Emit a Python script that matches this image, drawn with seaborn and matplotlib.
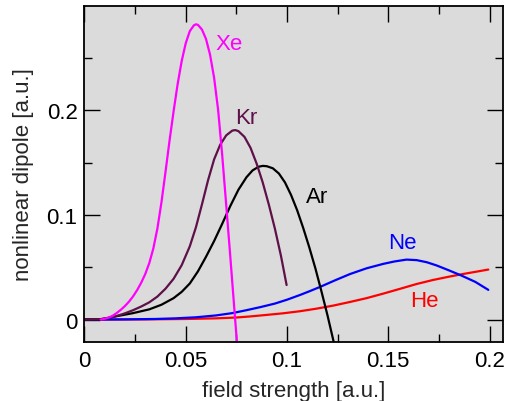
import matplotlib
matplotlib.use("Agg")
import matplotlib.pyplot as plt
import seaborn as sns
import pandas as pd
from matplotlib.ticker import MultipleLocator, FuncFormatter

# ---- data ----
xe_x = [0.008, 0.010, 0.012, 0.014, 0.016, 0.018, 0.020, 0.022, 0.024, 0.026, 0.028,
        0.030, 0.032, 0.034, 0.036, 0.038, 0.040, 0.042, 0.044, 0.046, 0.048,
        0.050, 0.052, 0.054, 0.055, 0.056, 0.058, 0.060, 0.062, 0.064, 0.066,
        0.068, 0.070, 0.072, 0.074, 0.0756]
xe_y = [0.0, 0.0008, 0.0020, 0.0038, 0.0064, 0.0095, 0.0130, 0.0172, 0.0222, 0.0282, 0.0352,
        0.0435, 0.0540, 0.0680, 0.0870, 0.1120, 0.1410, 0.1710, 0.1990, 0.2250, 0.2470,
        0.2640, 0.2755, 0.2810, 0.2820, 0.2815, 0.2770, 0.2680, 0.2530, 0.2310, 0.2000,
        0.1570, 0.1090, 0.0600, 0.0100, -0.0300]

kr_x = [0.0, 0.008, 0.012, 0.016, 0.020, 0.024, 0.028, 0.032, 0.036, 0.040, 0.044,
        0.048, 0.052, 0.055, 0.058, 0.061, 0.064, 0.067, 0.070, 0.073, 0.0745,
        0.076, 0.079, 0.082, 0.085, 0.088, 0.091, 0.094, 0.097, 0.0998]
kr_y = [0.0, 0.0005, 0.0015, 0.0035, 0.0060, 0.0090, 0.0125, 0.0165, 0.0220, 0.0295, 0.0390,
        0.0520, 0.0700, 0.0880, 0.1100, 0.1330, 0.1530, 0.1670, 0.1760, 0.1805, 0.1810,
        0.1800, 0.1745, 0.1640, 0.1490, 0.1310, 0.1100, 0.0870, 0.0610, 0.0330]

ar_x = [0.0, 0.008, 0.016, 0.024, 0.032, 0.038, 0.044, 0.048, 0.052, 0.056, 0.060,
        0.064, 0.068, 0.072, 0.076, 0.080, 0.083, 0.086, 0.088, 0.090, 0.093,
        0.096, 0.099, 0.102, 0.105, 0.108, 0.111, 0.114, 0.117, 0.120, 0.1235]
ar_y = [0.0, 0.0003, 0.0033, 0.0062, 0.0098, 0.0142, 0.0205, 0.0265, 0.0345, 0.0460, 0.0600,
        0.0750, 0.0915, 0.1085, 0.1240, 0.1360, 0.1425, 0.1460, 0.1468, 0.1465, 0.1445,
        0.1395, 0.1310, 0.1190, 0.1045, 0.0875, 0.0690, 0.0490, 0.0270, 0.0040, -0.0250]

ne_x = [0.0, 0.020, 0.035, 0.045, 0.055, 0.065, 0.073, 0.080, 0.087, 0.094, 0.100,
        0.1064, 0.111, 0.1163, 0.1237, 0.1311, 0.1393, 0.1475, 0.153, 0.159, 0.164,
        0.169, 0.1739, 0.180, 0.1862, 0.193, 0.1994]
ne_y = [0.0, 0.0002, 0.0006, 0.0012, 0.0022, 0.0040, 0.0062, 0.0090, 0.0120, 0.0153, 0.0190,
        0.0235, 0.0270, 0.0312, 0.0375, 0.0435, 0.0490, 0.0532, 0.0555, 0.0573, 0.0568,
        0.0548, 0.0517, 0.0470, 0.0420, 0.0360, 0.0284]

he_x = [0.0, 0.030, 0.050, 0.065, 0.075, 0.0817, 0.090, 0.098, 0.1064, 0.1147, 0.1229,
        0.131, 0.1393, 0.1475, 0.1558, 0.164, 0.172, 0.180, 0.1862, 0.193, 0.1994]
he_y = [0.0, 0.0002, 0.0006, 0.0012, 0.0020, 0.0030, 0.0045, 0.0060, 0.0080, 0.0105, 0.0134,
        0.0168, 0.0205, 0.0248, 0.0294, 0.0340, 0.0378, 0.0410, 0.0433, 0.0456, 0.0478]

gases = ["Xe", "Kr", "Ar", "Ne", "He"]
colors = {"Xe": "#ff00ff", "Kr": "#5e1049", "Ar": "#000000", "Ne": "#0000ff", "He": "#ff0000"}
label_pos = {"Xe": (0.0712, 0.264), "Kr": (0.0800, 0.193), "Ar": (0.1148, 0.118),
             "Ne": (0.1570, 0.0734), "He": (0.1678, 0.018)}

series = {"Xe": (xe_x, xe_y), "Kr": (kr_x, kr_y), "Ar": (ar_x, ar_y),
          "Ne": (ne_x, ne_y), "He": (he_x, he_y)}

frames = []
for g in gases:
    xs, ys = series[g]
    frames.append(pd.DataFrame({"x": xs, "y": ys, "gas": g}))
df = pd.concat(frames, ignore_index=True)

sns.set_theme(style="ticks")
plt.rcParams["font.family"] = ["Liberation Sans", "DejaVu Sans"]
FS = 16

fig = plt.figure(figsize=(5.09, 4.02), dpi=100)
ax = fig.add_axes([0.166, 0.147, 0.822, 0.8356])
ax.set_facecolor("#dbdbdb")

order = ["He", "Ne", "Ar", "Kr", "Xe"]
for g in order:
    sns.lineplot(data=df[df["gas"] == g], x="x", y="y", color=colors[g],
                 linewidth=1.6, estimator=None, sort=False, legend=False, ax=ax)

for g in gases:
    ax.text(*label_pos[g], g, color=colors[g], fontsize=FS, ha="center", va="center")

ax.set_xlim(0, 0.2066)
ax.set_ylim(-0.0213, 0.2995)
ax.xaxis.set_major_locator(MultipleLocator(0.05))
ax.xaxis.set_minor_locator(MultipleLocator(0.025))
ax.yaxis.set_major_locator(MultipleLocator(0.1))
ax.yaxis.set_minor_locator(MultipleLocator(0.05))
fmt = FuncFormatter(lambda v, p: "0" if abs(v) < 1e-9 else f"{v:g}")
ax.xaxis.set_major_formatter(fmt)
ax.yaxis.set_major_formatter(fmt)
ax.tick_params(which="both", direction="in", top=True, right=True, width=1.0,
               colors="black", labelsize=FS)
ax.tick_params(which="major", length=11.5)
ax.tick_params(which="minor", length=5.8)
ax.tick_params(axis="x", which="major", pad=6)
ax.tick_params(axis="y", which="major", pad=5)

ax.set_xlabel("field strength [a.u.]", fontsize=FS, labelpad=6)
ax.set_ylabel("nonlinear dipole [a.u.]", fontsize=FS, labelpad=9)
for s in ax.spines.values():
    s.set_color("black")
    s.set_linewidth(1.3)

fig.savefig("out.png", dpi=100)
